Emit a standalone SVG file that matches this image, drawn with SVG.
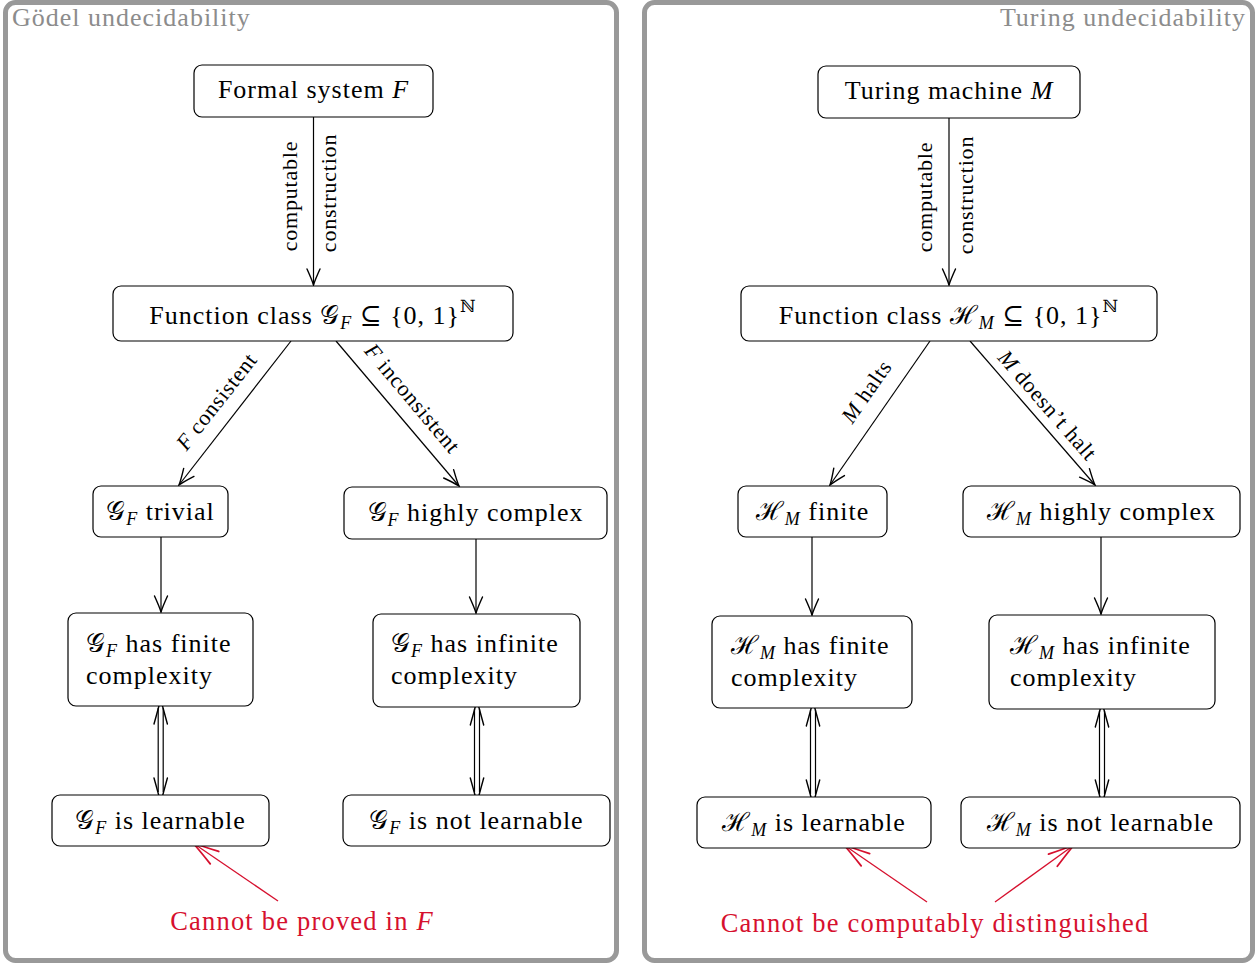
<svg xmlns="http://www.w3.org/2000/svg" width="1258" height="966" viewBox="0 0 1258 966">
<style>
.panel{fill:#fff;stroke:#999;stroke-width:5}
.title{font-family:"Liberation Serif","DejaVu Serif",serif;font-size:26px;letter-spacing:1px;fill:#8c8c8c}
.box{fill:#fff;stroke:#000;stroke-width:1.2}
.t{font-family:"Liberation Serif","DejaVu Serif",serif;font-size:26px;letter-spacing:1px;fill:#000}
.lbl{font-family:"Liberation Serif","DejaVu Serif",serif;font-size:22px;letter-spacing:0.8px;fill:#000}
.red{font-family:"Liberation Serif","DejaVu Serif",serif;font-size:26.5px;letter-spacing:1.2px;fill:#d6102e}
.i{font-style:italic}
.sub{font-size:18px;font-style:italic}
.e{fill:none;stroke:#000;stroke-width:1.2}
.er{fill:none;stroke:#d6102e;stroke-width:1.3}
.head{fill:none;stroke:#000;stroke-width:1.4;stroke-linecap:round}
</style>
<defs>
<marker id="ah" markerUnits="userSpaceOnUse" viewBox="-18 -9 20 18" refX="0" refY="0" markerWidth="20" markerHeight="18" orient="auto" overflow="visible">
<path d="M-16,-6.5 Q-5,-1.5 0,0 Q-5,1.5 -16,6.5" fill="none" stroke="#000" stroke-width="1.4" stroke-linecap="round"/>
</marker>
<marker id="ahr" markerUnits="userSpaceOnUse" viewBox="-30 -10 32 20" refX="0" refY="0" markerWidth="32" markerHeight="20" orient="auto" overflow="visible">
<path d="M-26,-7.5 Q-8,-2 0,0 Q-8,2 -26,7.5" fill="none" stroke="#d6102e" stroke-width="1.8" stroke-linecap="round"/>
</marker>
</defs>

<g id="panel-goedel">
<rect class="panel" x="5.5" y="2.5" width="611" height="958" rx="10"/>
<text class="title" x="12" y="26">Gödel undecidability</text>
</g>
<g id="panel-turing">
<rect class="panel" x="644.5" y="2.5" width="608" height="958" rx="10"/>
<text class="title" x="1246" y="26" text-anchor="end">Turing undecidability</text>
</g>

<g id="connectors">
<line class="e" x1="313.5" y1="117" x2="313.5" y2="285" marker-end="url(#ah)"/>
<line class="e" x1="291" y1="341" x2="179" y2="485" marker-end="url(#ah)"/>
<line class="e" x1="336" y1="341" x2="459" y2="486" marker-end="url(#ah)"/>
<line class="e" x1="161" y1="537" x2="161" y2="612" marker-end="url(#ah)"/>
<line class="e" x1="476" y1="539" x2="476" y2="613" marker-end="url(#ah)"/>
<line class="e" x1="949" y1="118" x2="949" y2="285" marker-end="url(#ah)"/>
<line class="e" x1="930" y1="341" x2="830" y2="485" marker-end="url(#ah)"/>
<line class="e" x1="970" y1="341" x2="1095" y2="485" marker-end="url(#ah)"/>
<line class="e" x1="812" y1="537" x2="812" y2="615" marker-end="url(#ah)"/>
<line class="e" x1="1101" y1="537" x2="1101" y2="614" marker-end="url(#ah)"/>

<g id="dbl-left1">
<path class="e" d="M158.2,708 V792 M163.2,708 V792"/>
<path class="head" d="M154,724 Q158.5,708 160.7,699 Q163,708 167.4,724 M154,778 Q158.5,794 160.7,803 Q163,794 167.4,778"/>
</g>
<g id="dbl-left2">
<path class="e" d="M474.5,709 V792 M479.5,709 V792"/>
<path class="head" d="M470.3,725 Q474.8,709 477,700 Q479.3,709 483.7,725 M470.3,778 Q474.8,794 477,803 Q479.3,794 483.7,778"/>
</g>
<g id="dbl-right1">
<path class="e" d="M810.5,710 V794 M815.5,710 V794"/>
<path class="head" d="M806.3,726 Q810.8,710 813,701 Q815.3,710 819.7,726 M806.3,780 Q810.8,796 813,805 Q815.3,796 819.7,780"/>
</g>
<g id="dbl-right2">
<path class="e" d="M1099.5,711 V794 M1104.5,711 V794"/>
<path class="head" d="M1095.3,727 Q1099.8,711 1102,702 Q1104.3,711 1108.7,727 M1095.3,780 Q1099.8,796 1102,805 Q1104.3,796 1108.7,780"/>
</g>

<line class="er" x1="278" y1="901" x2="193" y2="843" marker-end="url(#ahr)"/>
<line class="er" x1="927" y1="902" x2="844" y2="845" marker-end="url(#ahr)"/>
<line class="er" x1="995" y1="902" x2="1074" y2="845" marker-end="url(#ahr)"/>

<text class="lbl" transform="translate(297,196) rotate(-90)" text-anchor="middle">computable</text>
<text class="lbl" transform="translate(336,193) rotate(-90)" text-anchor="middle">construction</text>
<text class="lbl" transform="translate(216,401) rotate(-52)" text-anchor="middle" y="8"><tspan class="i">F</tspan> consistent</text>
<text class="lbl" transform="translate(413,398) rotate(50)" text-anchor="middle" y="8"><tspan class="i">F</tspan> inconsistent</text>
<text class="lbl" transform="translate(932,197) rotate(-90)" text-anchor="middle">computable</text>
<text class="lbl" transform="translate(973,195) rotate(-90)" text-anchor="middle">construction</text>
<text class="lbl" transform="translate(866,391) rotate(-55)" text-anchor="middle" y="8"><tspan class="i">M</tspan> halts</text>
<text class="lbl" transform="translate(1048,405) rotate(49)" text-anchor="middle" y="8"><tspan class="i">M</tspan> doesn’t halt</text>
</g>

<g id="n-formal">
<rect class="box" x="194" y="65" width="239" height="52" rx="8"/>
<text class="t" x="313.5" y="98" text-anchor="middle">Formal system <tspan class="i">F</tspan></text>
</g>
<g id="n-classG">
<rect class="box" x="113" y="286" width="400" height="55" rx="8"/>
<text class="t" x="313" y="324" text-anchor="middle">Function class 𝒢<tspan class="sub" dy="5">F</tspan><tspan dy="-5"> ⊆ {0, 1}</tspan><tspan dy="-12" font-size="17">ℕ</tspan></text>
</g>
<g id="n-trivialG">
<rect class="box" x="93" y="486" width="135" height="51" rx="8"/>
<text class="t" x="160.5" y="520" text-anchor="middle">𝒢<tspan class="sub" dy="5">F</tspan><tspan dy="-5"> trivial</tspan></text>
</g>
<g id="n-complexG">
<rect class="box" x="344" y="487" width="263" height="52" rx="8"/>
<text class="t" x="475.5" y="521" text-anchor="middle">𝒢<tspan class="sub" dy="5">F</tspan><tspan dy="-5"> highly complex</tspan></text>
</g>
<g id="n-finG">
<rect class="box" x="68" y="613" width="185" height="93" rx="8"/>
<text class="t" x="86" y="652">𝒢<tspan class="sub" dy="5">F</tspan><tspan dy="-5"> has finite</tspan></text>
<text class="t" x="86" y="684">complexity</text>
</g>
<g id="n-infG">
<rect class="box" x="373" y="614" width="207" height="93" rx="8"/>
<text class="t" x="391" y="652">𝒢<tspan class="sub" dy="5">F</tspan><tspan dy="-5"> has infinite</tspan></text>
<text class="t" x="391" y="684">complexity</text>
</g>
<g id="n-learnG">
<rect class="box" x="52" y="795" width="217" height="51" rx="8"/>
<text class="t" x="160.5" y="829" text-anchor="middle">𝒢<tspan class="sub" dy="5">F</tspan><tspan dy="-5"> is learnable</tspan></text>
</g>
<g id="n-notlearnG">
<rect class="box" x="343" y="795" width="267" height="51" rx="8"/>
<text class="t" x="476.5" y="829" text-anchor="middle">𝒢<tspan class="sub" dy="5">F</tspan><tspan dy="-5"> is not learnable</tspan></text>
</g>
<g id="note-left">
<text class="red" x="302" y="930" text-anchor="middle">Cannot be proved in <tspan class="i">F</tspan></text>
</g>

<g id="n-turing">
<rect class="box" x="818" y="66" width="262" height="52" rx="8"/>
<text class="t" x="949" y="99" text-anchor="middle">Turing machine <tspan class="i">M</tspan></text>
</g>
<g id="n-classH">
<rect class="box" x="741" y="286" width="416" height="55" rx="8"/>
<text class="t" x="949" y="324" text-anchor="middle">Function class ℋ<tspan class="sub" dy="5">M</tspan><tspan dy="-5"> ⊆ {0, 1}</tspan><tspan dy="-12" font-size="17">ℕ</tspan></text>
</g>
<g id="n-finiteH">
<rect class="box" x="738" y="486" width="149" height="51" rx="8"/>
<text class="t" x="812.5" y="520" text-anchor="middle">ℋ<tspan class="sub" dy="5">M</tspan><tspan dy="-5"> finite</tspan></text>
</g>
<g id="n-complexH">
<rect class="box" x="963" y="486" width="277" height="51" rx="8"/>
<text class="t" x="1101.5" y="520" text-anchor="middle">ℋ<tspan class="sub" dy="5">M</tspan><tspan dy="-5"> highly complex</tspan></text>
</g>
<g id="n-finH">
<rect class="box" x="712" y="616" width="200" height="92" rx="8"/>
<text class="t" x="731" y="654">ℋ<tspan class="sub" dy="5">M</tspan><tspan dy="-5"> has finite</tspan></text>
<text class="t" x="731" y="686">complexity</text>
</g>
<g id="n-infH">
<rect class="box" x="989" y="615" width="226" height="94" rx="8"/>
<text class="t" x="1010" y="654">ℋ<tspan class="sub" dy="5">M</tspan><tspan dy="-5"> has infinite</tspan></text>
<text class="t" x="1010" y="686">complexity</text>
</g>
<g id="n-learnH">
<rect class="box" x="697" y="797" width="234" height="51" rx="8"/>
<text class="t" x="814" y="831" text-anchor="middle">ℋ<tspan class="sub" dy="5">M</tspan><tspan dy="-5"> is learnable</tspan></text>
</g>
<g id="n-notlearnH">
<rect class="box" x="961" y="797" width="279" height="51" rx="8"/>
<text class="t" x="1100.5" y="831" text-anchor="middle">ℋ<tspan class="sub" dy="5">M</tspan><tspan dy="-5"> is not learnable</tspan></text>
</g>
<g id="note-right">
<text class="red" x="935" y="932" text-anchor="middle">Cannot be computably distinguished</text>
</g>
</svg>
